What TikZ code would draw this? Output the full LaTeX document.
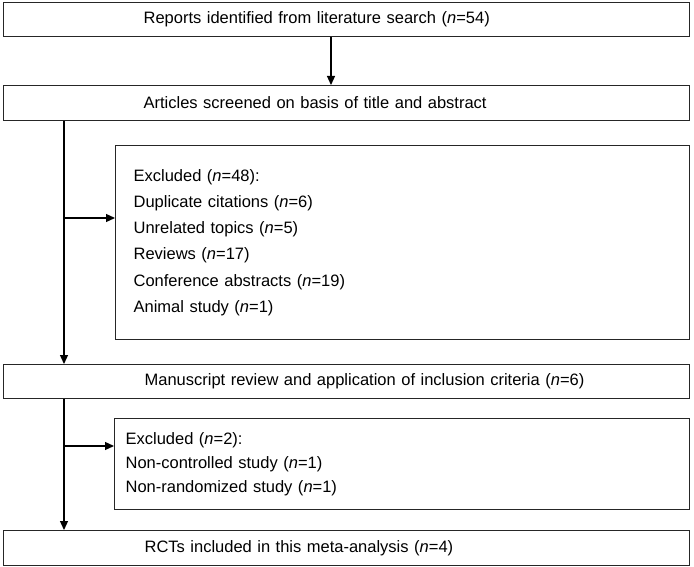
\documentclass[tikz,border=0pt]{standalone}
\usepackage{fontspec}
\setmainfont{Liberation Sans}
\usetikzlibrary{arrows.meta}
\begin{document}
\begin{tikzpicture}[x=1pt,y=1pt,
  box/.style={draw=black!85, line width=1.2pt, inner ysep=0pt, anchor=north west, align=left},
  mainbox/.style={box, inner xsep=0pt, minimum width=686pt, text width=686pt, font=\fontsize{16.5}{20}\selectfont},
  conn/.style={line width=1.2pt, -{Triangle[length=9pt,width=8pt]}}]
\useasboundingbox (0,0) rectangle (694,-567);
\node[mainbox, minimum height=34pt] (b1) at (3,-2) {\hspace*{140pt}Reports identified from literature search (\textit{n}=54)};
\node[mainbox, minimum height=35pt] (b2) at (3,-85) {\hspace*{140pt}Articles screened on basis of title and abstract};
\node[box, inner xsep=18pt, text width=538pt, minimum width=574pt, minimum height=194pt, font=\fontsize{16.5}{26.2}\selectfont] (b3) at (115,-145)
  {Excluded (\textit{n}=48):\\
   Duplicate citations (\textit{n}=6)\\
   Unrelated topics (\textit{n}=5)\\
   Reviews (\textit{n}=17)\\
   Conference abstracts (\textit{n}=19)\\
   Animal study (\textit{n}=1)};
\node[mainbox, minimum height=34pt] (b4) at (3,-364) {\hspace*{141pt}Manuscript review and application of inclusion criteria (\textit{n}=6)};
\node[box, inner xsep=11pt, text width=553pt, minimum width=575pt, minimum height=91pt, font=\fontsize{16.5}{24}\selectfont] (b5) at (114,-418)
  {Excluded (\textit{n}=2):\\
   Non-controlled study (\textit{n}=1)\\
   Non-randomized study (\textit{n}=1)};
\node[mainbox, minimum height=35pt] (b6) at (3,-530) {\hspace*{141pt}RCTs included in this meta-analysis (\textit{n}=4)};
\coordinate (a1) at (331,0);
\coordinate (spine) at (64,0);
\coordinate (j1) at (64,-218);
\coordinate (j2) at (64,-446);
\draw[conn] (b1.south -| a1) -- (b2.north -| a1);
\draw[conn] (b2.south -| spine) -- (b4.north -| spine);
\draw[conn] (j1) -- (b3.west |- j1);
\draw[conn] (b4.south -| spine) -- (b6.north -| spine);
\draw[conn] (j2) -- (b5.west |- j2);
\end{tikzpicture}
\end{document}
